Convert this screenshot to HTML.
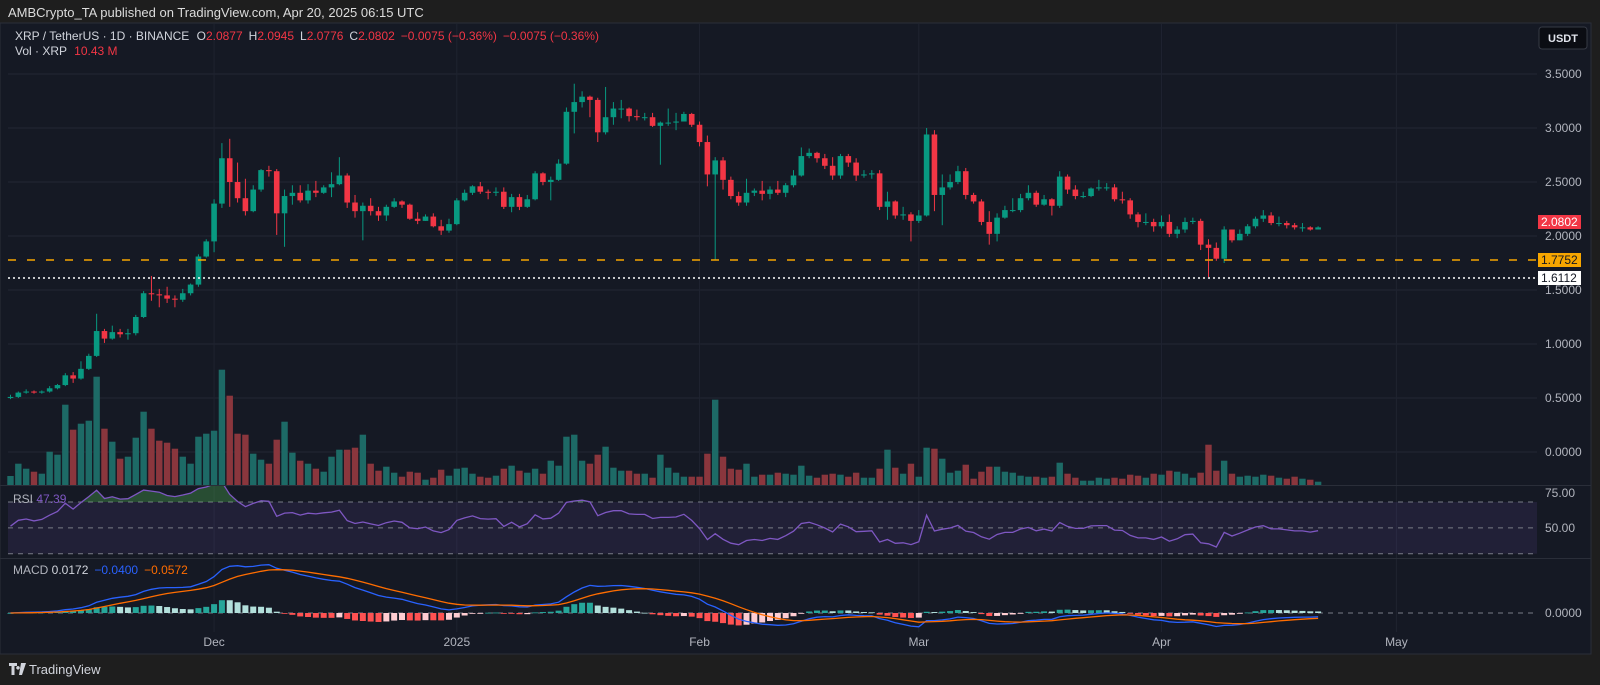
<!DOCTYPE html>
<html><head><meta charset="utf-8"><style>
html,body{margin:0;padding:0;background:#1e1e1e;width:1600px;height:685px;overflow:hidden}
svg{display:block}
text{font-family:"Liberation Sans",sans-serif}
</style></head><body>
<svg id="chart" width="1600" height="685" viewBox="0 0 1600 685">
<rect x="0" y="0" width="1600" height="685" fill="#1e1e1e"/>
<text x="8" y="17" fill="#dcdcdc" font-size="13">AMBCrypto_TA published on TradingView.com, Apr 20, 2025 06:15 UTC</text>
<rect x="0" y="23" width="1591" height="631" fill="#151924" stroke="#2a2e39"/>
<g id="grid"></g>
<g id="vol"></g>
<g id="candles"></g>
<line x1="8" x2="1537" y1="260" y2="260" stroke="#f7a600" stroke-width="1.5" stroke-dasharray="8,11"/>
<line x1="8" x2="1537" y1="278" y2="278" stroke="#ffffff" stroke-width="1.5" stroke-dasharray="2,3"/>
<line x1="0" x2="1591" y1="485.5" y2="485.5" stroke="#2a2e39"/>
<line x1="0" x2="1591" y1="558.5" y2="558.5" stroke="#2a2e39"/>
<g id="rsi"></g>
<g id="macd"></g>
<g id="axis"></g>
<rect x="1539" y="27" width="48" height="22" rx="3" fill="#0b0d13" stroke="#363a45"/>
<text x="1563" y="42" fill="#e0e3eb" font-size="11" font-weight="bold" text-anchor="middle">USDT</text>
<rect x="1538" y="215" width="43" height="14" fill="#f23645"/>
<text x="1541" y="226" fill="#ffffff" font-size="12">2.0802</text>
<rect x="1538" y="253" width="43" height="14" fill="#f7a600"/>
<text x="1541" y="264" fill="#131722" font-size="12">1.7752</text>
<rect x="1538" y="271" width="43" height="14" fill="#ffffff"/>
<text x="1541" y="282" fill="#131722" font-size="12">1.6112</text>
<text x="15" y="40" font-size="12" fill="#d1d4dc">XRP / TetherUS · 1D · BINANCE <tspan dx="4">O</tspan><tspan fill="#f23645">2.0877</tspan><tspan dx="6">H</tspan><tspan fill="#f23645">2.0945</tspan><tspan dx="6">L</tspan><tspan fill="#f23645">2.0776</tspan><tspan dx="6">C</tspan><tspan fill="#f23645">2.0802</tspan><tspan dx="6" fill="#f23645">−0.0075 (−0.36%)</tspan><tspan dx="6" fill="#f23645">−0.0075 (−0.36%)</tspan></text>
<text x="15" y="55" font-size="12" fill="#d1d4dc">Vol · XRP <tspan dx="4" fill="#f23645">10.43 M</tspan></text>
<text x="13" y="503" font-size="12" fill="#b2b5be">RSI <tspan fill="#7e57c2">47.39</tspan></text>
<text x="13" y="574" font-size="12" fill="#b2b5be">MACD <tspan fill="#d1d4dc">0.0172</tspan><tspan dx="6" fill="#2962ff">−0.0400</tspan><tspan dx="6" fill="#ff6d00">−0.0572</tspan></text>
<g>
<path d="M9 663h8v3h-2.5v9h-3v-9H9z M18 666a1.8 1.8 0 1 0 0.01 0z M21 663h5l-4 12h-3z" fill="#d1d4dc"/>
<text x="29" y="674" font-size="13" fill="#d1d4dc">TradingView</text>
</g>
</svg>
<script>
const closes=[0.51,0.55,0.56,0.55,0.56,0.59,0.62,0.71,0.68,0.77,
0.89,1.12,1.05,1.11,1.09,1.10,1.25,1.47,1.46,1.45,
1.42,1.41,1.47,1.55,1.81,1.95,2.30,2.72,2.50,2.35,
2.23,2.43,2.61,2.60,2.21,2.37,2.40,2.33,2.42,2.40,
2.45,2.48,2.56,2.31,2.23,2.28,2.23,2.19,2.27,2.32,
2.29,2.16,2.14,2.18,2.09,2.05,2.11,2.33,2.40,2.46,
2.41,2.40,2.41,2.27,2.36,2.27,2.34,2.58,2.50,2.52,
2.67,3.15,3.24,3.29,3.26,2.96,3.10,3.18,3.18,3.11,
3.10,3.10,3.02,3.05,3.05,3.06,3.13,3.03,2.87,2.57,
2.70,2.52,2.37,2.31,2.40,2.42,2.39,2.43,2.40,2.47,
2.56,2.74,2.77,2.72,2.65,2.56,2.74,2.68,2.56,2.57,
2.58,2.27,2.32,2.19,2.20,2.14,2.19,2.94,2.38,2.45,
2.50,2.60,2.38,2.32,2.13,2.02,2.17,2.24,2.24,2.35,
2.40,2.29,2.34,2.28,2.55,2.43,2.37,2.37,2.44,2.45,
2.45,2.34,2.33,2.20,2.13,2.13,2.09,2.13,2.02,2.06,
2.13,2.14,1.92,1.89,1.79,2.06,1.96,2.02,2.09,2.16,
2.19,2.12,2.12,2.10,2.08,2.08,2.06,2.08];
const firstOpen=0.50;
const highs=[0.53,0.56,0.58,0.57,0.57,0.61,0.63,0.73,0.74,0.84,
0.91,1.28,1.14,1.17,1.14,1.14,1.27,1.49,1.63,1.51,
1.53,1.45,1.51,1.56,1.83,1.97,2.34,2.86,2.90,2.68,
2.53,2.47,2.62,2.65,2.62,2.43,2.47,2.47,2.48,2.51,
2.47,2.59,2.73,2.58,2.38,2.31,2.35,2.27,2.29,2.35,
2.33,2.30,2.22,2.20,2.21,2.15,2.16,2.35,2.43,2.47,
2.50,2.43,2.45,2.45,2.39,2.39,2.38,2.60,2.59,2.55,
2.71,3.19,3.41,3.34,3.30,3.28,3.38,3.24,3.26,3.19,
3.17,3.14,3.14,3.06,3.18,3.14,3.15,3.14,3.06,2.93,
2.73,2.73,2.55,2.41,2.53,2.44,2.51,2.46,2.51,2.49,
2.61,2.82,2.81,2.78,2.76,2.73,2.76,2.76,2.72,2.61,
2.61,2.61,2.41,2.33,2.27,2.22,2.24,3.00,2.98,2.57,
2.57,2.65,2.63,2.40,2.34,2.23,2.21,2.28,2.35,2.39,
2.47,2.42,2.38,2.35,2.60,2.57,2.47,2.41,2.45,2.52,
2.49,2.48,2.41,2.35,2.22,2.21,2.16,2.19,2.20,2.09,
2.17,2.17,2.16,1.97,1.94,2.09,2.06,2.06,2.11,2.18,
2.24,2.22,2.18,2.14,2.12,2.12,2.09,2.09];
const lows=[0.49,0.50,0.54,0.54,0.54,0.55,0.58,0.61,0.64,0.67,
0.76,0.88,1.01,1.04,1.06,1.04,1.08,1.24,1.40,1.34,
1.38,1.34,1.39,1.45,1.53,1.80,1.85,2.26,2.27,2.31,
2.19,2.22,2.41,2.55,2.01,1.90,2.29,2.31,2.30,2.36,
2.39,2.36,2.47,2.26,2.17,1.96,2.19,2.14,2.14,2.26,
2.26,2.15,2.11,2.14,2.08,2.01,2.03,2.10,2.32,2.38,
2.39,2.34,2.37,2.25,2.22,2.24,2.26,2.33,2.47,2.33,
2.51,2.66,2.95,3.19,3.10,2.87,2.94,3.03,3.09,3.06,
3.07,3.07,3.01,2.66,3.02,2.98,3.06,3.01,2.83,2.46,
1.78,2.43,2.34,2.28,2.28,2.37,2.33,2.34,2.38,2.36,
2.45,2.55,2.72,2.68,2.62,2.52,2.53,2.64,2.51,2.54,
2.53,2.24,2.15,2.16,2.15,1.95,2.12,2.18,2.23,2.10,
2.43,2.48,2.34,2.30,2.10,1.92,1.95,2.16,2.22,2.22,
2.33,2.27,2.28,2.19,2.26,2.39,2.34,2.35,2.36,2.42,
2.42,2.32,2.30,2.16,2.08,2.10,2.04,2.07,1.99,1.98,
2.03,2.11,1.87,1.62,1.77,1.75,1.94,1.96,2.00,2.07,
2.13,2.10,2.09,2.07,2.06,2.04,2.05,2.07];
const volumes=[97,220,170,140,120,340,310,810,560,620,
650,1090,570,440,270,290,480,740,570,450,
430,370,290,220,490,520,550,1160,900,520,
510,320,260,220,460,640,330,250,220,170,
140,290,360,360,380,510,220,150,190,130,
90,140,130,60,80,160,100,170,180,120,
90,80,100,170,200,150,130,170,120,250,
200,490,510,250,220,310,390,180,150,150,
120,120,80,310,180,130,90,90,90,320,
860,290,170,160,220,90,110,110,130,120,
110,200,100,80,110,120,110,90,130,80,
80,170,360,180,120,220,90,380,370,270,
130,150,210,70,140,190,190,140,130,100,
90,90,80,90,230,120,80,50,50,80,
70,80,70,110,100,80,120,110,150,140,
120,80,130,410,150,250,120,90,100,90,
110,100,80,70,90,70,60,40];
const priceTicks=[3.5,3.0,2.5,2.0,1.5,1.0,0.5,0.0];
const dateLabels=["Dec","2025","Feb","Mar","Apr","May"];
const dateIndex=[26,57,88,116,147,177];

const NS="http://www.w3.org/2000/svg";
function mk(tag,attrs,parent){const e=document.createElementNS(NS,tag);for(const k in attrs)e.setAttribute(k,attrs[k]);parent.appendChild(e);return e;}
const xAt=i=>10.5+i*7.83;
const priceY=p=>452-108*p;
const volY=v=>485.7-v/10;
const rsiY=r=>553.7-(r-25)*1.034;
const macdY=m=>613-110*m;

const grid=document.getElementById('grid');
priceTicks.forEach(p=>{
  const l=mk('line',{x1:8,x2:1537,y1:priceY(p),y2:priceY(p),stroke:'#222633','stroke-width':1},grid);
  
  
});
const axis=document.getElementById('axis');
priceTicks.forEach(p=>{
  const t=mk('text',{x:1545,y:priceY(p)+4,fill:'#b2b5be','font-size':12},axis);
  t.textContent=p.toFixed(4);
  
  
});
dateLabels.forEach((d,k)=>{
  const x=xAt(dateIndex[k]);
  const l=mk('line',{x1:x,x2:x,y1:24,y2:632,stroke:'#1f2330','stroke-width':1},grid);
  
  
  const t=mk('text',{x:x,y:646,fill:'#b2b5be','font-size':12,'text-anchor':'middle'},axis);
  t.textContent=d;
  
  
});

const opens=closes.map((c,i)=>i===0?firstOpen:closes[i-1]);
const volG=document.getElementById('vol');
const cG=document.getElementById('candles');
closes.forEach((c,i)=>{
  const o=opens[i],up=c>=o,x=xAt(i);
  const vb=mk('rect',{x:x-3.2,y:volY(volumes[i]),width:6.4,height:485.7-volY(volumes[i]),fill:up?'#1d6a66':'#8a363d'},volG);
  
  
  const col=up?'#089981':'#f23645';
  const w=mk('line',{x1:x,x2:x,y1:priceY(highs[i]),y2:priceY(lows[i]),stroke:col,'stroke-width':1},cG);
  
  
  const top=priceY(Math.max(o,c)),bot=priceY(Math.min(o,c));
  const b=mk('rect',{x:x-2.8,y:top,width:5.6,height:Math.max(1,bot-top),fill:col},cG);
  
  
});

// RSI (Wilder 14)
const rsiG=document.getElementById('rsi');
const band=mk('rect',{x:8,y:rsiY(75),width:1529,height:rsiY(25)-rsiY(75),fill:'rgba(126,87,194,0.12)'},rsiG);


[75,50,25].forEach(v=>{
  const l=mk('line',{x1:8,x2:1537,y1:rsiY(v),y2:rsiY(v),stroke:'#787b86','stroke-dasharray':'5,5','stroke-width':1},rsiG);
  
  
});
[[75,497],[50,532]].forEach(a=>{
  const t=mk('text',{x:1545,y:a[1],fill:'#b2b5be','font-size':12},rsiG);
  t.textContent=a[0].toFixed(2);
  
  
});
let ag=0.012,al=0.012;const rsi=[];
closes.forEach((c,i)=>{const d=c-opens[i];ag=(ag*13+Math.max(d,0))/14;al=(al*13+Math.max(-d,0))/14;rsi.push(100-100/(1+ag/al));});
const defs=mk('defs',{},rsiG);
const cp=mk('clipPath',{id:'rsiclip'},defs);
mk('rect',{x:8,y:486,width:1529,height:72},cp);
const cpOB=mk('clipPath',{id:'obclip'},defs);
mk('rect',{x:8,y:486,width:1529,height:rsiY(75)-486},cpOB);
let pts=rsi.map((r,i)=>xAt(i).toFixed(1)+','+rsiY(r).toFixed(1));
const ob=mk('polygon',{points:xAt(0)+','+rsiY(75)+' '+pts.join(' ')+' '+xAt(rsi.length-1)+','+rsiY(75),fill:'rgba(76,175,80,0.35)','clip-path':'url(#obclip)'},rsiG);


const rl=mk('polyline',{points:pts.join(' '),fill:'none',stroke:'#7e57c2','stroke-width':1.3,'clip-path':'url(#rsiclip)'},rsiG);



// MACD 12/26/9
const mG=document.getElementById('macd');
const zl=mk('line',{x1:8,x2:1537,y1:macdY(0),y2:macdY(0),stroke:'#787b86','stroke-dasharray':'5,5','stroke-width':1},mG);


const zt=mk('text',{x:1545,y:macdY(0)+4,fill:'#b2b5be','font-size':12},mG);
zt.textContent='0.0000';


let e12=closes[0],e26=closes[0],sig=0;const macd=[],sigs=[],hist=[];
closes.forEach(c=>{e12+=(c-e12)*2/13;e26+=(c-e26)*2/27;const m=e12-e26;sig+=(m-sig)*2/10;macd.push(m);sigs.push(sig);hist.push(m-sig);});
hist.forEach((h,i)=>{
  const prev=i?hist[i-1]:0;
  const col=h>=0?(h>=prev?'#26a69a':'#b2dfdb'):(h<prev?'#ff5252':'#ffcdd2');
  const y0=macdY(0),y1=macdY(h);
  const r=mk('rect',{x:xAt(i)-3,y:Math.min(y0,y1),width:6,height:Math.max(0.8,Math.abs(y1-y0)),fill:col},mG);
  
  
});
const ml=mk('polyline',{points:macd.map((m,i)=>xAt(i).toFixed(1)+','+macdY(m).toFixed(1)).join(' '),fill:'none',stroke:'#2962ff','stroke-width':1.3},mG);


const sl=mk('polyline',{points:sigs.map((m,i)=>xAt(i).toFixed(1)+','+macdY(m).toFixed(1)).join(' '),fill:'none',stroke:'#ff6d00','stroke-width':1.3},mG);


</script>
</body></html>
